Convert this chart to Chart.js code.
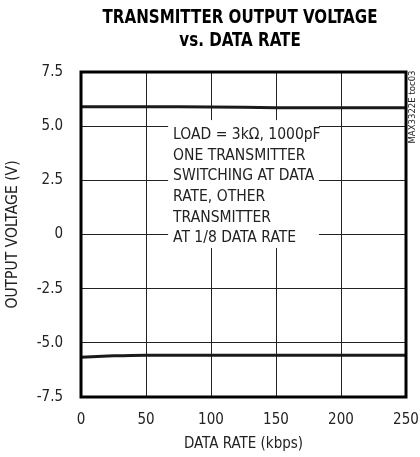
<!DOCTYPE html>
<html>
<head>
<meta charset="utf-8">
<script src="https://cdn.jsdelivr.net/npm/chart.js@4.4.1/dist/chart.umd.min.js"></script>
<style>
  html, body { margin: 0; padding: 0; background: #fff; }
  #wrap { width: 420px; height: 457px; position: relative; }
</style>
</head>
<body>
<div id="wrap"><canvas id="grafica" width="420" height="457"></canvas></div>
<script>
// datos
const tasas = [0, 25, 50, 100, 150, 200, 250];
const salidaAlta = [5.9, 5.9, 5.9, 5.89, 5.85, 5.85, 5.85];
const salidaBaja = [-5.66, -5.6, -5.57, -5.57, -5.57, -5.57, -5.57];
const ticksY = [-7.5, -5.0, -2.5, 0, 2.5, 5.0, 7.5];
const ticksX = [0, 50, 100, 150, 200, 250];

const titulo = ['TRANSMITTER OUTPUT VOLTAGE', 'vs. DATA RATE'];
const nota = ['LOAD = 3k\u03A9, 1000pF', 'ONE TRANSMITTER', 'SWITCHING AT DATA', 'RATE, OTHER', 'TRANSMITTER', 'AT 1/8 DATA RATE'];
const codigo = 'MAX3322E toc03';

const fuente = '"Liberation Sans Narrow", "DejaVu Sans Condensed", "Liberation Sans", sans-serif';
const tinta = '#222';

const puntos = ys => tasas.map((x, i) => ({ x: x, y: ys[i] }));

const extras = {
    id: 'extras',
    beforeDatasetsDraw(c) {
        const { ctx, scales: { x, y } } = c;
        // caja blanca para la nota
        const x0 = x.getPixelForValue(67), x1 = x.getPixelForValue(183);
        const y0 = y.getPixelForValue(5.28), y1 = y.getPixelForValue(-0.62);
        ctx.save();
        ctx.fillStyle = '#fff';
        ctx.fillRect(x0, y0, x1 - x0, y1 - y0);
        ctx.fillStyle = tinta;
        ctx.font = '15.5px ' + fuente;
        ctx.textBaseline = 'middle';
        nota.forEach((t, i) => ctx.fillText(t, x0 + 5, y0 + 15 + i * 20.6));
        ctx.restore();
    },
    afterDraw(c) {
        const { ctx, chartArea: a } = c;
        ctx.save();
        ctx.strokeStyle = '#000';
        ctx.lineWidth = 3;
        ctx.strokeRect(a.left, a.top, a.right - a.left, a.bottom - a.top);

        // titulo angosto y pesado
        ctx.fillStyle = '#000';
        ctx.textAlign = 'center';
        ctx.textBaseline = 'middle';
        ctx.font = 'bold 20px ' + fuente;
        ctx.save();
        ctx.translate(240, 0);
        ctx.scale(0.84, 1);
        ctx.fillText(titulo[0], 0, 18);
        ctx.fillText(titulo[1], 0, 41);
        ctx.restore();

        ctx.translate(413, 107);
        ctx.rotate(-Math.PI / 2);
        ctx.font = '9.5px ' + fuente;
        ctx.fillStyle = tinta;
        ctx.fillText(codigo, 0, 0);
        ctx.restore();
    }
};

new Chart(document.getElementById('grafica').getContext('2d'), {
    type: 'line',
    data: {
        datasets: [
            { data: puntos(salidaAlta), borderColor: '#1a1a1a', borderWidth: 3, pointRadius: 0, tension: 0.3 },
            { data: puntos(salidaBaja), borderColor: '#1a1a1a', borderWidth: 3, pointRadius: 0, tension: 0.3 }
        ]
    },
    options: {
        responsive: false,
        animation: false,
        layout: { padding: { top: 72, right: 14, left: 0, bottom: 0 } },
        plugins: { legend: { display: false }, tooltip: { enabled: false } },
        scales: {
            x: {
                type: 'linear', min: 0, max: 250,
                afterFit: s => { s.height = 60; s.paddingLeft = 0; s.paddingRight = 0; },
                afterBuildTicks: s => { s.ticks = ticksX.map(v => ({ value: v })); },
                grid: { color: '#222', lineWidth: 1, drawTicks: false },
                border: { display: false },
                ticks: { color: tinta, padding: 14, font: { family: fuente, size: 15 } },
                title: { display: true, text: 'DATA RATE (kbps)', color: tinta, font: { family: fuente, size: 15 }, padding: { top: 4, bottom: 4 } }
            },
            y: {
                min: -7.5, max: 7.5,
                afterFit: s => { s.width = 81; s.paddingTop = 0; s.paddingBottom = 0; },
                afterBuildTicks: s => { s.ticks = ticksY.map(v => ({ value: v })); },
                grid: { color: '#222', lineWidth: 1, drawTicks: false },
                border: { display: false },
                ticks: { color: tinta, padding: 18, font: { family: fuente, size: 15 },
                    callback: v => v === 0 ? '0' : v.toFixed(1) },
                title: { display: true, text: 'OUTPUT VOLTAGE (V)', color: tinta, font: { family: fuente, size: 15.5 }, padding: { top: 4, bottom: 4 } }
            }
        }
    },
    plugins: [extras]
});
</script>
</body>
</html>
